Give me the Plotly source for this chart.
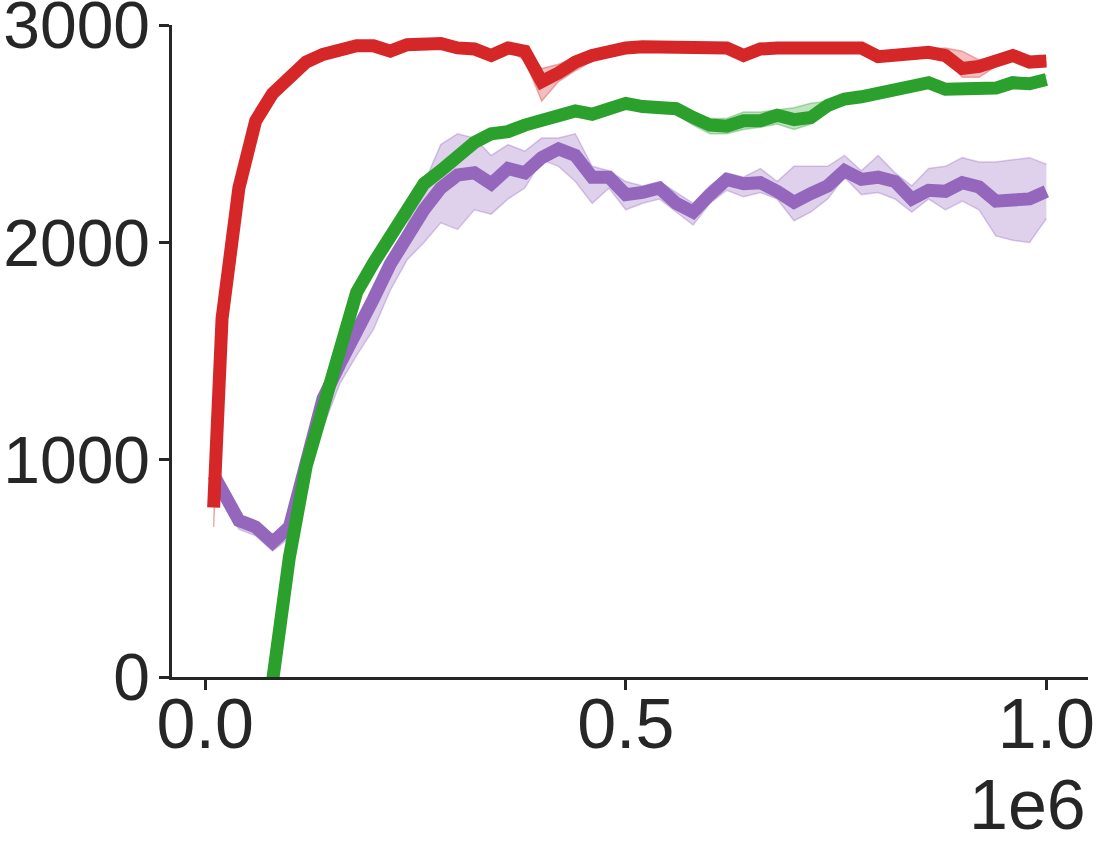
import plotly.graph_objects as go

# steps (in thousands)
steps_k = [10, 20, 40, 60, 80, 100, 120, 140, 160, 180, 200, 220, 240, 260, 280, 300, 320, 340, 360, 380,
           400, 420, 440, 460, 480, 500, 520, 540, 560, 580, 600, 620, 640, 660, 680, 700, 720, 740, 760, 780,
           800, 820, 840, 860, 880, 900, 920, 940, 960, 980, 1000]

red_mean = [780, 1650, 2250, 2560, 2685, 2760, 2830, 2865, 2890, 2905, 2905, 2880, 2910, 2915, 2915, 2895, 2890, 2860, 2895, 2880,
            2740, 2780, 2830, 2860, 2880, 2895, 2900, 2900, 2905, 2905, 2905, 2895, 2860, 2890, 2895, 2895, 2890, 2890, 2895, 2895,
            2855, 2860, 2870, 2875, 2860, 2800, 2810, 2840, 2860, 2830, 2835]
red_lo = [690, 1590, 2210, 2530, 2660, 2740, 2810, 2850, 2875, 2890, 2890, 2865, 2895, 2900, 2900, 2880, 2875, 2845, 2880, 2840,
          2650, 2740, 2790, 2835, 2860, 2880, 2885, 2885, 2890, 2890, 2890, 2880, 2845, 2875, 2880, 2880, 2875, 2875, 2880, 2880,
          2835, 2845, 2855, 2860, 2845, 2760, 2760, 2810, 2845, 2815, 2820]
red_hi = [880, 1710, 2290, 2590, 2710, 2780, 2850, 2880, 2905, 2920, 2920, 2895, 2925, 2930, 2930, 2910, 2905, 2875, 2910, 2895,
          2800, 2820, 2850, 2880, 2895, 2910, 2915, 2915, 2920, 2920, 2920, 2910, 2875, 2905, 2910, 2910, 2905, 2905, 2910, 2910,
          2870, 2875, 2885, 2890, 2895, 2880, 2840, 2855, 2875, 2845, 2850]

green_mean = [-2900, -2400, -1500, -700, -20, 550, 970, 1255, 1540, 1770, 1905, 2030, 2170, 2270, 2330, 2400, 2460, 2500, 2510, 2540,
              2565, 2575, 2605, 2590, 2615, 2640, 2625, 2620, 2615, 2575, 2540, 2535, 2560, 2560, 2585, 2565, 2575, 2630, 2660, 2670,
              2685, 2700, 2715, 2735, 2705, 2710, 2715, 2710, 2735, 2730, 2750]
green_lo = [-2950, -2450, -1550, -740, -50, 520, 945, 1230, 1515, 1745, 1885, 2010, 2150, 2250, 2310, 2380, 2440, 2480, 2490, 2520,
            2545, 2555, 2585, 2570, 2595, 2620, 2605, 2600, 2590, 2540, 2500, 2500, 2520, 2530, 2545, 2520, 2545, 2600, 2640, 2650,
            2665, 2680, 2695, 2715, 2685, 2690, 2695, 2690, 2715, 2710, 2730]
green_hi = [-2850, -2350, -1450, -660, 10, 580, 995, 1280, 1565, 1795, 1925, 2050, 2190, 2290, 2350, 2420, 2480, 2520, 2530, 2560,
            2585, 2595, 2625, 2610, 2635, 2660, 2645, 2640, 2635, 2600, 2570, 2570, 2600, 2600, 2610, 2620, 2640, 2650, 2680, 2690,
            2705, 2720, 2735, 2755, 2725, 2730, 2735, 2730, 2755, 2750, 2770]

purple_mean = [930, 850, 720, 690, 620, 690, 1000, 1280, 1440, 1580, 1740, 1900, 2030, 2150, 2250, 2310, 2320, 2270, 2340, 2320,
               2390, 2430, 2400, 2300, 2300, 2220, 2230, 2250, 2180, 2140, 2220, 2290, 2270, 2275, 2235, 2185, 2225, 2260, 2330, 2290,
               2300, 2280, 2200, 2240, 2235, 2275, 2255, 2190, 2195, 2200, 2235]
purple_lo = [880, 820, 680, 650, 580, 640, 900, 1150, 1350, 1480, 1600, 1780, 1920, 2000, 2090, 2060, 2150, 2130, 2200, 2250,
             2380, 2350, 2280, 2180, 2250, 2150, 2180, 2200, 2140, 2080, 2180, 2240, 2210, 2230, 2200, 2100, 2140, 2200, 2300, 2220,
             2230, 2200, 2140, 2200, 2150, 2190, 2150, 2030, 2010, 2000, 2110]
purple_hi = [960, 880, 750, 720, 650, 730, 1050, 1320, 1500, 1640, 1780, 1940, 2080, 2270, 2450, 2500, 2480, 2400, 2450, 2420,
             2480, 2480, 2500, 2350, 2330, 2280, 2260, 2280, 2230, 2180, 2260, 2320, 2300, 2340, 2280, 2350, 2350, 2350, 2400, 2330,
             2400, 2320, 2260, 2340, 2350, 2390, 2370, 2370, 2380, 2390, 2360]

x_ticks = [0, 500000, 1000000]
x_tick_labels = ["0.0", "0.5", "1.0"]
y_ticks = [0, 1000, 2000, 3000]
y_tick_labels = ["0", "1000", "2000", "3000"]

steps = [k * 1000 for k in steps_k]

series = [
    ("purple", purple_mean, purple_lo, purple_hi, (148, 103, 189)),
    ("green", green_mean, green_lo, green_hi, (44, 160, 44)),
    ("red", red_mean, red_lo, red_hi, (214, 39, 40)),
]

fig = go.Figure()
for name, mean, lo, hi, (r, g, b) in series:
    edge = f"rgba({r},{g},{b},0.35)"
    fill = f"rgba({r},{g},{b},0.3)"
    fig.add_trace(go.Scatter(x=steps, y=lo, mode="lines", line=dict(color=edge, width=1.5),
                             showlegend=False, hoverinfo="skip"))
    fig.add_trace(go.Scatter(x=steps, y=hi, mode="lines", line=dict(color=edge, width=1.5),
                             fill="tonexty", fillcolor=fill, showlegend=False, hoverinfo="skip"))
    fig.add_trace(go.Scatter(x=steps, y=mean, mode="lines", name=name,
                             line=dict(color=f"rgb({r},{g},{b})", width=13), showlegend=False))

axis_col = "#262626"
narrow = "Liberation Sans Narrow, Arial Narrow, Liberation Sans, sans-serif"
fig.update_layout(
    width=1096, height=845,
    margin=dict(l=172, r=8, t=25, b=168, autoexpand=False),
    paper_bgcolor="white", plot_bgcolor="white",
    font=dict(family="Liberation Sans, Arial, sans-serif", color=axis_col),
    showlegend=False,
)
fig.update_xaxes(
    range=[-39500, 1049500], showgrid=False, zeroline=False, automargin=False,
    showline=True, linecolor=axis_col, linewidth=2.5,
    ticks="outside", ticklen=10, tickwidth=2.5, tickcolor=axis_col,
    tickvals=x_ticks, ticktext=x_tick_labels, tickfont=dict(size=70, family=narrow),
    ticklabeloverflow="allow", ticklabelstandoff=-26,
)
fig.update_yaxes(
    range=[0, 3000.5], showgrid=False, zeroline=False, automargin=False,
    showline=True, linecolor=axis_col, linewidth=2.5,
    ticks="outside", ticklen=10, tickwidth=2.5, tickcolor=axis_col,
    tickvals=y_ticks, ticktext=y_tick_labels, tickfont=dict(size=66),
    ticklabeloverflow="allow", ticklabelstandoff=-4,
)
fig.add_annotation(text="1e6", xref="paper", yref="paper", x=1.0, y=-0.197,
                   xanchor="right", yanchor="middle", showarrow=False,
                   font=dict(size=70, color=axis_col, family=narrow))

fig.write_html("out.html", config={"displayModeBar": False},
               post_script="document.body.style.margin='0px';document.body.style.overflow='hidden';")
